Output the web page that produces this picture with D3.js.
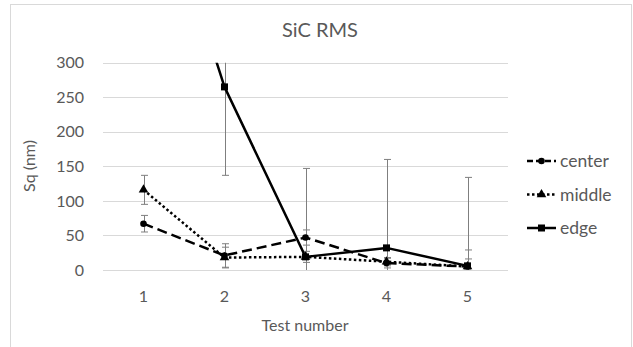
<!DOCTYPE html>
<html>
<head>
<meta charset="utf-8">
<script src="https://d3js.org/d3.v7.min.js"></script>
<style type="text/css">
body {margin:0;background:#fff;}
svg {display:block;}
text {font-family:Lato, "Open Sans", sans-serif;fill:#595959;}
</style>
</head>
<body>
<svg id="chart" width="633" height="347"></svg>
<script type="text/javascript">
// values
var tests = [1, 2, 3, 4, 5];
var yTicks = [0, 50, 100, 150, 200, 250, 300];
var center = [67, 21, 47, 10, 5];
var centerErr = [12, 17, 11, 7, 11];
var middle = [116, 18, 19, 12, 5];
var middleErr = [21, 15, 8, 6, 24];
var edge = [630, 265, 19, 32, 6];
var edgeErr = [128, 128, 128, 128, 128];

var series = [
	{name: "center", values: center, err: centerErr, dash: "10,5", marker: "circle"},
	{name: "middle", values: middle, err: middleErr, dash: "2.5,2.5", marker: "triangle"},
	{name: "edge", values: edge, err: edgeErr, dash: null, marker: "square"}
];

var svg = d3.select("#chart");

// chart frame
svg.append("rect").attr("x", 10.5).attr("y", 4.5).attr("width", 621).attr("height", 360)
	.attr("fill", "#fff").attr("stroke", "#d9d9d9");

var plotLeft = 103, plotRight = 508, plotTop = 62.7, plotBottom = 270;

var x = d3.scaleBand().domain(tests).range([plotLeft, plotRight]);
var y = d3.scaleLinear().domain([0, 300]).range([plotBottom, plotTop]);
var cx = function(i) { return x(tests[i]) + x.bandwidth() / 2; };

// gridlines
svg.append("g").selectAll("line").data(yTicks).enter().append("line")
	.attr("x1", plotLeft).attr("x2", plotRight)
	.attr("y1", function(d) { return Math.round(y(d)) + 0.5; })
	.attr("y2", function(d) { return Math.round(y(d)) + 0.5; })
	.attr("stroke", "#d9d9d9").attr("stroke-width", 1);

// y axis labels
var yAxis = svg.append("g").attr("transform", "translate(" + (plotLeft - 9) + ",0)")
	.call(d3.axisLeft(y).tickValues(yTicks).tickSize(0).tickPadding(10));
yAxis.select(".domain").remove();
yAxis.selectAll("text").attr("font-size", 16).attr("fill", "#595959")
	.style("font-family", "Lato, 'Open Sans', sans-serif");

// x axis labels
var xAxis = svg.append("g").attr("transform", "translate(0," + (plotBottom + 13) + ")")
	.call(d3.axisBottom(x).tickSize(0).tickPadding(8));
xAxis.select(".domain").remove();
xAxis.selectAll("text").attr("font-size", 16).attr("fill", "#595959")
	.style("font-family", "Lato, 'Open Sans', sans-serif");

// titles
svg.append("text").attr("x", 320).attr("y", 37).attr("text-anchor", "middle")
	.attr("font-size", 20).text("SiC RMS");
svg.append("text").attr("x", 305).attr("y", 331).attr("text-anchor", "middle")
	.attr("font-size", 16).text("Test number");
svg.append("text").attr("transform", "translate(35,166) rotate(-90)")
	.attr("text-anchor", "middle").attr("font-size", 16).text("Sq (nm)");

// clip to plot area
svg.append("clipPath").attr("id", "plot").append("rect")
	.attr("x", plotLeft).attr("y", plotTop).attr("width", plotRight - plotLeft).attr("height", plotBottom - plotTop);
var plot = svg.append("g").attr("clip-path", "url(#plot)");

function drawMarker(g, type, px, py) {
	if (type == "circle") {
		g.append("circle").attr("cx", px).attr("cy", py).attr("r", 3.3).attr("fill", "#000");
	} else if (type == "triangle") {
		g.append("path").attr("d", d3.symbol().type(d3.symbolTriangle).size(40)())
			.attr("transform", "translate(" + px + "," + py + ")").attr("fill", "#000");
	} else {
		g.append("rect").attr("x", px - 3.5).attr("y", py - 3.5).attr("width", 7).attr("height", 7).attr("fill", "#000");
	}
}

// error bars
series.forEach(function(s) {
	s.values.forEach(function(v, i) {
		var px = Math.round(cx(i)) + 0.5;
		var eb = plot.append("g").attr("stroke", "#7f7f7f").attr("stroke-width", 1);
		eb.append("line").attr("x1", px).attr("x2", px).attr("y1", y(v - s.err[i])).attr("y2", y(v + s.err[i]));
		[v - s.err[i], v + s.err[i]].forEach(function(e) {
			eb.append("line").attr("x1", px - 3.5).attr("x2", px + 3.5).attr("y1", y(e)).attr("y2", y(e));
		});
	});
});

// lines and markers
var line = d3.line().x(function(d, i) { return cx(i); }).y(function(d) { return y(d); });
series.forEach(function(s) {
	var p = plot.append("path").datum(s.values).attr("d", line)
		.attr("fill", "none").attr("stroke", "#000").attr("stroke-width", 2.5)
		.attr("stroke-linejoin", "round");
	if (s.dash) p.attr("stroke-dasharray", s.dash);
	s.values.forEach(function(v, i) { drawMarker(plot, s.marker, cx(i), y(v)); });
});

// legend
var legendY = d3.scalePoint().domain(series.map(function(s) { return s.name; })).range([161, 228]);
series.forEach(function(s) {
	var ly = legendY(s.name);
	var g = svg.append("g");
	var l = g.append("line").attr("x1", 527).attr("x2", 556).attr("y1", ly).attr("y2", ly)
		.attr("stroke", "#000").attr("stroke-width", 2.5);
	if (s.dash) l.attr("stroke-dasharray", s.name == "center" ? "6,3" : s.dash);
	drawMarker(g, s.marker, 541.5, ly);
	g.append("text").attr("x", 560).attr("y", ly + 6).attr("font-size", 17.5).text(s.name);
});
</script>
</body>
</html>
